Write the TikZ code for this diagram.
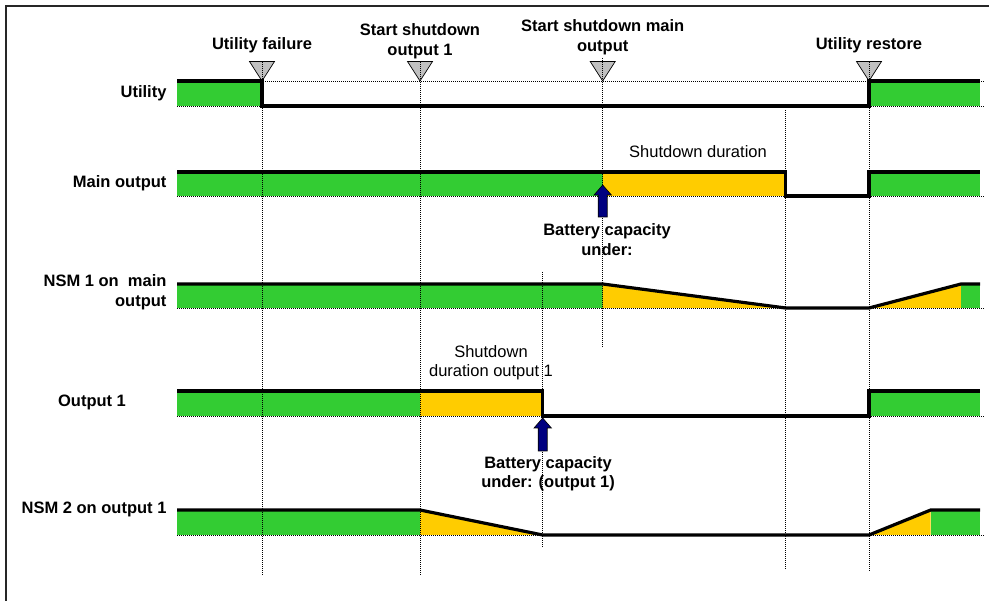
\documentclass[tikz,border=0pt]{standalone}
\usepackage{fontspec}
\setmainfont{Liberation Sans}
\definecolor{upsgreen}{RGB}{51,204,51}
\definecolor{upsyellow}{RGB}{255,204,0}
\definecolor{upsnavy}{RGB}{0,0,128}
\definecolor{upsgray}{RGB}{192,192,192}

\begin{document}
\begin{tikzpicture}[x=1pt,y=-1pt,
  level/.style={line width=3.2pt, line join=miter},
  grid/.style={line width=0.8pt, dash pattern=on 1pt off 1pt},
  eventmark/.style={fill=upsgray, draw=black, line width=0.7pt},
  battarrow/.style={fill=upsnavy, draw=black, line width=0.6pt},
  lbl/.style={font=\fontsize{16.5}{19.5}\selectfont\bfseries, align=center},
  rowlbl/.style={lbl, anchor=east, align=right},
  note/.style={font=\fontsize{16.5}{19.5}\selectfont, align=center}]
  \useasboundingbox (0,0) rectangle (989,601);
  % frame
  \draw[line width=1.8pt, black!85] (6,601) -- (6,6) -- (989,6);

  % fills
  \fill[upsgreen] (177,81) rectangle (262,106);
  \fill[upsgreen] (869,81) rectangle (980,106);
  \fill[upsgreen] (177,172) rectangle (602.7,196);
  \fill[upsyellow] (602.7,172) rectangle (785.7,196);
  \fill[upsgreen] (869,172) rectangle (980,196);
  \fill[upsgreen] (177,284) rectangle (602.7,308);
  \fill[upsyellow] (602.7,284) -- (785.7,308) -- (602.7,308) -- cycle;
  \fill[upsyellow] (869,308) -- (961,284) -- (961,308) -- cycle;
  \fill[upsgreen] (961,284) rectangle (980,308);
  \fill[upsgreen] (177,391) rectangle (420,416);
  \fill[upsyellow] (420,391) rectangle (542.7,416);
  \fill[upsgreen] (869,391) rectangle (980,416);
  \fill[upsgreen] (177,510) rectangle (420,535);
  \fill[upsyellow] (420,510) -- (542.7,535) -- (420,535) -- cycle;
  \fill[upsyellow] (869,535) -- (930.7,510) -- (930.7,535) -- cycle;
  \fill[upsgreen] (930.7,510) rectangle (980,535);

  % event marks
  \foreach \x in {262, 420, 602.7, 869}
    \draw[eventmark] (\x-12.5,61.5) -- (\x+12.5,61.5) -- (\x,81) -- cycle;

  % dotted guides
  \draw[grid] (177,81) -- (985,81);
  \foreach \y in {106, 196, 308, 416, 535}
    \draw[grid] (177,\y) -- (985,\y);
  \draw[grid] (262,62) -- (262,575);
  \draw[grid] (420,62) -- (420,575);
  \draw[grid] (542.7,272) -- (542.7,548);
  \draw[grid] (602.7,58) -- (602.7,347);
  \draw[grid] (785.7,110) -- (785.7,570);
  \draw[grid] (869,62) -- (869,572);

  % signal levels
  \draw[level] (177,81) -- (262,81) -- (262,106) -- (869,106) -- (869,81) -- (980,81);
  \draw[level] (177,172) -- (785.7,172) -- (785.7,196) -- (869,196) -- (869,172) -- (980,172);
  \draw[level] (177,284) -- (602.7,284) -- (785.7,308) -- (869,308) -- (961,284) -- (980,284);
  \draw[level] (177,391) -- (542.7,391) -- (542.7,416) -- (869,416) -- (869,391) -- (980,391);
  \draw[level] (177,510) -- (420,510) -- (542.7,535) -- (869,535) -- (930.7,510) -- (980,510);

  % battery arrows
  \foreach \x/\t/\b in {602.7/185/217, 542.7/418/451}
    \draw[battarrow] (\x-4.5,\b) -- (\x-4.5,\t+10) -- (\x-8.7,\t+10) -- (\x,\t)
      -- (\x+8.7,\t+10) -- (\x+4.5,\t+10) -- (\x+4.5,\b) -- cycle;

  % event labels
  \node[lbl] (failure) at (262,45.5) {Utility failure};
  \node[lbl] (shutout) at (420,41) {Start shutdown\\output 1};
  \node[lbl] (shutmain) at (602.7,37) {Start shutdown main\\output};
  \node[lbl] (restore) at (869,45.5) {Utility restore};

  % row labels
  \node[rowlbl] (utility) at (170,93) {Utility};
  \node[rowlbl] (mainout) at (170,183) {Main output};
  \node[rowlbl] (nsmone) at (170,292) {NSM 1 on\ \ main\\output};
  \node[lbl] (outone) at (92,402) {Output 1};
  \node[rowlbl] (nsmtwo) at (170,509) {NSM 2 on output 1};

  % notes
  \node[note] (durmain) at (698,152) {Shutdown duration};
  \node[note] (durout) at (491,362.5) {Shutdown\\duration output 1};
  \node[lbl] (battmain) at (607,239.5) {Battery capacity\\under:};
  \node[lbl] (battout) at (548,473.5) {Battery capacity\\under: (output 1)};
\end{tikzpicture}
\end{document}
